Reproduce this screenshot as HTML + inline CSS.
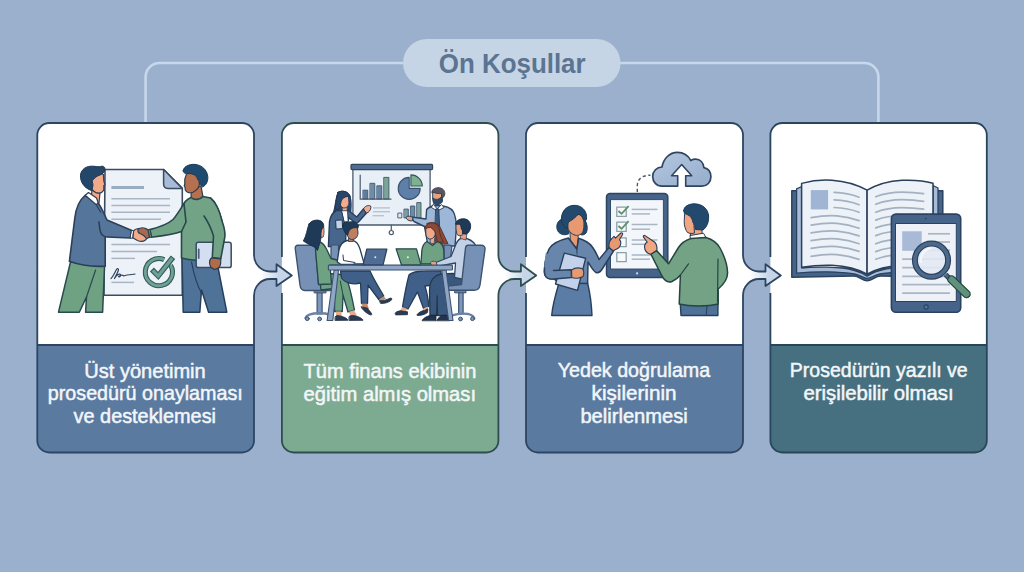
<!DOCTYPE html>
<html lang="tr">
<head>
<meta charset="utf-8">
<title>Ön Koşullar</title>
<style>
html,body{margin:0;padding:0;background:#9bb0cc;}
body{width:1024px;height:572px;overflow:hidden;font-family:"Liberation Sans",sans-serif;}
svg{display:block;position:absolute;left:0;top:0;}
.t{font-family:"Liberation Sans",sans-serif;font-size:20.3px;fill:#f3f6f9;stroke:#f3f6f9;stroke-width:0.5px;}
.ttl{font-family:"Liberation Sans",sans-serif;font-size:28.5px;font-weight:bold;fill:#5b7492;}
.ol{stroke-width:1.8;stroke-linejoin:round;stroke-linecap:butt;}
</style>
</head>
<body>
<svg width="1024" height="572" viewBox="0 0 1024 572">
<defs><linearGradient id="arw254" gradientUnits="userSpaceOnUse" x1="260.0" y1="0" x2="284.0" y2="0"><stop offset="0" stop-color="#ffffff"/><stop offset="0.5" stop-color="#dde7f2"/><stop offset="0.8" stop-color="#c6d6e8"/><stop offset="1" stop-color="#c6d6e8"/></linearGradient><linearGradient id="arw498" gradientUnits="userSpaceOnUse" x1="504.4" y1="0" x2="528.4" y2="0"><stop offset="0" stop-color="#ffffff"/><stop offset="0.5" stop-color="#dde7f2"/><stop offset="0.8" stop-color="#c6d6e8"/><stop offset="1" stop-color="#c6d6e8"/></linearGradient><linearGradient id="arw743" gradientUnits="userSpaceOnUse" x1="749.0" y1="0" x2="773.0" y2="0"><stop offset="0" stop-color="#ffffff"/><stop offset="0.5" stop-color="#dde7f2"/><stop offset="0.8" stop-color="#c6d6e8"/><stop offset="1" stop-color="#c6d6e8"/></linearGradient></defs>
<rect x="0" y="0" width="1024" height="572" fill="#9bb0cc"/>
<!-- connector lines -->
<path d="M403 63 H159.6 A14 14 0 0 0 145.6 77 V123" fill="none" stroke="#c7d8ec" stroke-width="2.6"/>
<path d="M620 63 H864.4 A14 14 0 0 1 878.4 77 V123" fill="none" stroke="#c7d8ec" stroke-width="2.6"/>
<!-- title pill -->
<rect x="403" y="39" width="217.5" height="48" rx="24" fill="#c5d5e5"/>
<text class="ttl" x="438.8" y="72.8" textLength="146.8" lengthAdjust="spacingAndGlyphs">Ön Koşullar</text>
<!-- cards -->
<path d="M49.3 123.0 H242.0 A12.0 12.0 0 0 1 254.0 135.0 V255 A16 16.5 0 0 0 270.0 271.5 H276.5 V264.2 L291.8 275.4 L276.5 286 V279 H270.0 A16 16.5 0 0 0 254.0 295.5 V345.0 H37.3 V135.0 A12.0 12.0 0 0 1 49.3 123.0 Z" fill="#ffffff"/>
<path d="M37.3 345.0 H254.0 V440.5 A12.0 12.0 0 0 1 242.0 452.5 H49.3 A12.0 12.0 0 0 1 37.3 440.5 Z" fill="#5a7aa0"/>
<path d="M293.9 123.0 H486.4 A12.0 12.0 0 0 1 498.4 135.0 V255 A16 16.5 0 0 0 514.4 271.5 H520.9 V264.2 L536.1999999999999 275.4 L520.9 286 V279 H514.4 A16 16.5 0 0 0 498.4 295.5 V345.0 H281.9 V135.0 A12.0 12.0 0 0 1 293.9 123.0 Z" fill="#ffffff"/>
<path d="M281.9 345.0 H498.4 V440.5 A12.0 12.0 0 0 1 486.4 452.5 H293.9 A12.0 12.0 0 0 1 281.9 440.5 Z" fill="#7dab91"/>
<path d="M538.0 123.0 H731.0 A12.0 12.0 0 0 1 743.0 135.0 V255 A16 16.5 0 0 0 759.0 271.5 H765.5 V264.2 L780.8 275.4 L765.5 286 V279 H759.0 A16 16.5 0 0 0 743.0 295.5 V345.0 H526.0 V135.0 A12.0 12.0 0 0 1 538.0 123.0 Z" fill="#ffffff"/>
<path d="M526.0 345.0 H743.0 V440.5 A12.0 12.0 0 0 1 731.0 452.5 H538.0 A12.0 12.0 0 0 1 526.0 440.5 Z" fill="#5a7aa0"/>
<path d="M782.4 123.0 H974.8 A12.0 12.0 0 0 1 986.8 135.0 V345.0 H770.4 V135.0 A12.0 12.0 0 0 1 782.4 123.0 Z" fill="#ffffff"/>
<path d="M770.4 345.0 H986.8 V440.5 A12.0 12.0 0 0 1 974.8 452.5 H782.4 A12.0 12.0 0 0 1 770.4 440.5 Z" fill="#46707f"/>
<path d="M260.0 271.5 H276.5 V264.2 L291.8 275.4 L276.5 286 V279 H260.0 Z" fill="url(#arw254)"/>
<path d="M504.4 271.5 H520.9 V264.2 L536.1999999999999 275.4 L520.9 286 V279 H504.4 Z" fill="url(#arw498)"/>
<path d="M749.0 271.5 H765.5 V264.2 L780.8 275.4 L765.5 286 V279 H749.0 Z" fill="url(#arw743)"/>
<path class="ol" d="M49.3 123.0 H242.0 A12.0 12.0 0 0 1 254.0 135.0 V255 A16 16.5 0 0 0 270.0 271.5 H276.5 V264.2 L291.8 275.4 L276.5 286 V279 H270.0 A16 16.5 0 0 0 254.0 295.5 V440.5 A12.0 12.0 0 0 1 242.0 452.5 H49.3 A12.0 12.0 0 0 1 37.3 440.5 V135.0 A12.0 12.0 0 0 1 49.3 123.0 Z" fill="none" stroke="#2d4562"/>
<path class="ol" d="M37.3 345.0 H254.0" fill="none" stroke="#2d4562"/>
<path class="ol" d="M281.9 257 V135.0 A12.0 12.0 0 0 1 293.9 123.0 H486.4 A12.0 12.0 0 0 1 498.4 135.0 V255 A16 16.5 0 0 0 514.4 271.5 H520.9 V264.2 L536.1999999999999 275.4 L520.9 286 V279 H514.4 A16 16.5 0 0 0 498.4 295.5 V440.5 A12.0 12.0 0 0 1 486.4 452.5 H293.9 A12.0 12.0 0 0 1 281.9 440.5 V293" fill="none" stroke="#2f4d50"/>
<path class="ol" d="M281.9 345.0 H498.4" fill="none" stroke="#2f4d50"/>
<path class="ol" d="M526.0 257 V135.0 A12.0 12.0 0 0 1 538.0 123.0 H731.0 A12.0 12.0 0 0 1 743.0 135.0 V255 A16 16.5 0 0 0 759.0 271.5 H765.5 V264.2 L780.8 275.4 L765.5 286 V279 H759.0 A16 16.5 0 0 0 743.0 295.5 V440.5 A12.0 12.0 0 0 1 731.0 452.5 H538.0 A12.0 12.0 0 0 1 526.0 440.5 V293" fill="none" stroke="#2d4562"/>
<path class="ol" d="M526.0 345.0 H743.0" fill="none" stroke="#2d4562"/>
<path class="ol" d="M770.4 257 V135.0 A12.0 12.0 0 0 1 782.4 123.0 H974.8 A12.0 12.0 0 0 1 986.8 135.0 V440.5 A12.0 12.0 0 0 1 974.8 452.5 H782.4 A12.0 12.0 0 0 1 770.4 440.5 V293" fill="none" stroke="#27465a"/>
<path class="ol" d="M770.4 345.0 H986.8" fill="none" stroke="#27465a"/>
<!-- illustrations -->
<!-- ILLUSTRATION 1 : handshake + document -->
<g id="ill1" stroke-linejoin="round" stroke-linecap="round">
<!-- document -->
<path d="M105 169.5 H163.6 L182.3 188.4 V295.2 H104 Z" fill="#edf2f8" stroke="#3a4c62" stroke-width="1.6"/>
<path d="M163.6 169.5 L182.3 188.4 H168 Q163.6 188.4 163.6 184 Z" fill="#a8bcd7" stroke="#3a4c62" stroke-width="1.5"/>
<path d="M111.4 187.5 H144" stroke="#9aacbf" stroke-width="3" stroke-linecap="butt" fill="none"/>
<g stroke="#a7b5c5" stroke-width="1.5" fill="none" stroke-linecap="butt">
<path d="M111.4 198.7 H170"/><path d="M111.4 205.4 H170"/><path d="M111.4 212.3 H170"/><path d="M111.4 219.2 H161"/>
<path d="M111.4 244.5 H170"/><path d="M111.4 251.5 H157"/><path d="M111.4 258.4 H135"/>
<path d="M111.4 282.4 H134"/>
</g>
<!-- signature -->
<path d="M111 278.5 C113 277 115 272 116.5 269.5 C117.5 268 119 268.5 118.3 270.5 C117.5 273 115.5 276.5 114.5 278.5 C116 275.5 119.5 273 120.5 274.5 C121.3 276 119 277.5 118.5 276.5 C120 275.5 122 274.5 123 275.5 C124 276.5 125.5 275 127 275 C129.5 275 132 274.5 135 274" fill="none" stroke="#2d435d" stroke-width="1.2"/>
<!-- check circle -->
<path d="M170.6 265.2 A13.6 13.6 0 1 1 164.2 259.6" fill="none" stroke="#2f5d5c" stroke-width="5" stroke-linecap="butt"/>
<path d="M170.6 265.2 A13.6 13.6 0 1 1 164.2 259.6" fill="none" stroke="#6fa092" stroke-width="2.8" stroke-linecap="butt"/>
<path d="M151.9 269.6 L158.2 275.9 L173 257.2" fill="none" stroke="#2f5d5c" stroke-width="5.6" stroke-linecap="butt" stroke-linejoin="miter"/>
<path d="M152.7 270.4 L158.2 275.9 L172.3 258.1" fill="none" stroke="#6fa092" stroke-width="3.3" stroke-linecap="butt" stroke-linejoin="miter"/>

<!-- MAN 1 (left) -->
<!-- trousers -->
<path d="M70.5 262 L58.5 312.2 H79.3 L86.5 297 L85.6 312.2 H102.6 L104.6 265 Z" fill="#6fa183" stroke="#2a4a4e" stroke-width="1.5"/>
<path d="M95.6 270 L86.5 297" fill="none" stroke="#2a4a4e" stroke-width="1.2"/>
<!-- neck -->
<path d="M92 190 L91 199 L99 203 L100 193 Z" fill="#f2a684" stroke="#2b3f58" stroke-width="1.2"/>
<!-- jacket body -->
<path d="M85 195.5 C79.5 200 76 208 74.8 218 L69.4 261.3 C80 265.3 95 266.8 105.2 266.2 L105.2 237 L103 215 L98 203 Z" fill="#56759b" stroke="#2b3f58" stroke-width="1.6"/>
<!-- collar -->
<path d="M85.2 195.3 L88.5 192.5 L96.5 198 L98.4 203.2 L96 204.5 Z" fill="#ffffff" stroke="#2b3f58" stroke-width="1.2"/>
<!-- arm -->
<path d="M98 203 C101 206 104 214 107 220 L131.8 230.6 L130.4 238 L107 237 C103 236.8 100.5 234 99.5 230 L96 216 Z" fill="#56759b"/>
<path d="M98 203 C101 206 104 214 107 220 L131.8 230.6 L130.4 238 L107 237 C103 236.8 100.5 234 99.8 229 L99 222" fill="none" stroke="#2b3f58" stroke-width="1.6"/>
<path d="M96.5 205 L100.5 212" fill="none" stroke="#2b3f58" stroke-width="1.2"/>
<path d="M131.8 230.4 L133.8 230.8 L132.6 238.3 L130.4 238 Z" fill="#ffffff" stroke="#2b3f58" stroke-width="1"/>
<!-- head -->
<path d="M92 178 C95 173.5 101 172.5 103.4 174.5 L103.8 181 L105 184.8 L103.8 185.6 L103.8 189.8 C102.5 192.8 99 193.5 96 192.6 C93 191.3 91 188 91.2 185 Z" fill="#f4aa88" stroke="#2b3f58" stroke-width="1.2"/>
<path d="M91.5 190.5 C86 189 81.2 184 80.5 177.5 C79.8 171 84.5 166.4 91 166.2 C95 166 99 167.3 100.5 166.5 C102.5 165.5 105.2 166.6 105 169.2 C104.8 172 102.8 174 100 175 C97 176 94.5 177.5 93.5 179.5 C92.6 179.6 92 180.6 92.3 182 C92.5 183.3 93.2 184 93 185.3 C92.6 187.5 92.2 189.5 91.5 190.5 Z" fill="#234669" stroke="#1f3854" stroke-width="1"/>

<!-- MAN 2 (right) -->
<!-- trousers -->
<path d="M182 258 L183.2 312.2 H199.8 L201.5 290 L208.6 312.2 H226.8 L218.5 270 L217.4 259 Z" fill="#4f7299" stroke="#263f5c" stroke-width="1.5"/>
<path d="M191.5 262 C194 275 198 287 201.5 293" fill="none" stroke="#263f5c" stroke-width="1.2"/>
<!-- neck -->
<path d="M191 189 L191.2 198.5 C195 200.5 200 199.5 203 197 L201 186 Z" fill="#b5714f" stroke="#2a3c50" stroke-width="1.2"/>
<!-- sweater body -->
<path d="M191 197.5 C186 199.5 183 203 181.5 209 L181.5 258 C190 260.5 205 261 214 259.5 L222 221 C219 210 216 202 210.5 198 L203 196.5 C200 200 194.5 200.5 191 197.5 Z" fill="#72a386" stroke="#27484c" stroke-width="1.6"/>
<!-- tablet -->
<rect x="196.2" y="242.2" width="35" height="25.4" rx="2.2" fill="#d3dff0" stroke="#3a4c62" stroke-width="1.5"/>
<path d="M198.7 249.5 V258" stroke="#4b607c" stroke-width="1.8" fill="none"/>
<!-- right arm holding tablet -->
<path d="M210.5 198 C216 203 220 212 222 221 C224.5 228 225.5 232 224.8 237 L220.8 258.5 L212.3 257.5 L213.5 236 C211 228 207.5 221 204 216" fill="#72a386" stroke="#27484c" stroke-width="1.6"/>
<path d="M211.3 258 C209.5 260 209.3 264 210.6 267 L214 269.3 C217.5 269.6 220.5 267 220.6 263.5 L220.8 258.8 Z" fill="#b06c49" stroke="#2a3c50" stroke-width="1.2"/>
<!-- left arm extended -->
<path d="M184 203.5 C181 208 177 215 173 219.5 C168 224 158 227.5 149.8 229.6 L151.3 237.2 C162 236 174 234.5 181.5 231.5 L186 222 Z" fill="#72a386" stroke="#27484c" stroke-width="1.6"/>
<path d="M149.8 229.4 L147.6 229.8 L149.2 237.5 L151.3 237.2 Z" fill="#5b8a74" stroke="#27484c" stroke-width="1"/>
<!-- head -->
<path d="M186.5 174 C185 177 184.3 181 184.8 184 L184.2 186 L185 187.2 L185.3 190 C186.5 192.8 190 193.3 193 192.2 C196.5 190.5 199 188 199.5 184 L198 176 C194 172.5 189 172.5 186.5 174 Z" fill="#b5714f" stroke="#2a3c50" stroke-width="1.2"/>
<path d="M183.2 170.5 C183.8 166.5 189 164 195 164.4 C202 165 207 170 207.8 176.5 C208.2 181.5 206 185.5 202.5 187 C201 185.5 199.8 184.5 199.5 183 C200 181 199.2 179.5 197.8 179.8 C197.2 177 195.5 175 193 174.2 C190 173.2 187 173.8 185 173.2 C183.6 172.7 183 171.6 183.2 170.5 Z" fill="#1f4a70" stroke="#1c3a58" stroke-width="1"/>

<!-- clasped hands -->
<path d="M133.6 231 C135 229 138 228.3 140 229 L146 233.5 C148 235.5 147.5 238.5 145.5 240 C143.5 241.5 140 241.6 137.5 240.5 L133 238 Z" fill="#f4aa88" stroke="#2b3f58" stroke-width="1.2"/>
<path d="M138 229.5 C140 227.6 143.5 227.6 145.8 228.6 L148 229.8 L149.4 237.4 L146.5 238.5 C145 236.5 142.5 234.5 140.5 233.8 C139 233.2 137.6 231.5 138 229.5 Z" fill="#a9694d" stroke="#2b3f58" stroke-width="1.2"/>
</g>

<!-- ILLUSTRATION 2 : meeting -->
<g id="ill2" stroke-linejoin="round" stroke-linecap="round">
<!-- screen -->
<rect x="352.9" y="168" width="77.2" height="57" fill="#e9eff6" stroke="#4a5b70" stroke-width="1.3"/>
<rect x="351" y="164.4" width="81.6" height="5.2" rx="1" fill="#506d8f" stroke="#30455f" stroke-width="1.2"/>
<path d="M391.3 225 V230.2" stroke="#4a5b70" stroke-width="1.2" fill="none"/>
<circle cx="391.3" cy="232.6" r="2.1" fill="#ffffff" stroke="#4a5b70" stroke-width="1.2"/>
<!-- bar chart 1 -->
<g stroke="#3f566e" stroke-width="0.9">
<rect x="363.3" y="190.2" width="4.5" height="8.8" fill="#5d7c9e"/>
<rect x="370.3" y="183.3" width="4.5" height="15.7" fill="#6c8ea6"/>
<rect x="377.2" y="185.8" width="4.6" height="13.2" fill="#6686a6"/>
<rect x="384.1" y="177.4" width="4.8" height="21.6" fill="#79a793"/>
</g>
<path d="M360.2 175.2 V199.2 H391" fill="none" stroke="#4a5b70" stroke-width="1.2"/>
<!-- pie -->
<path d="M409.2 188.4 V177.4 A11 11 0 1 0 420.2 188.4 Z" fill="#5d7fa8" stroke="#3a506c" stroke-width="1.1"/>
<path d="M410.9 186 V174.9 A11.3 11.3 0 0 1 422.3 186 Z" fill="#7fb093" stroke="#2f5a55" stroke-width="1.1"/>
<!-- text lines -->
<g stroke="#b8c4d1" stroke-width="1.4" stroke-linecap="butt" fill="none">
<path d="M373 207.9 H390"/><path d="M373 211.7 H390"/><path d="M372.5 215.7 H384"/>
</g>
<!-- bar chart 2 -->
<g stroke="#3f566e" stroke-width="0.9">
<rect x="398.2" y="213.1" width="3.6" height="4.8" fill="#dfe7f0"/>
<rect x="404.3" y="209.1" width="4" height="8.8" fill="#7b9eaa"/>
<rect x="410.8" y="206" width="4" height="11.9" fill="#6b8ba6"/>
<rect x="417.1" y="202.6" width="3.9" height="15.3" fill="#7da59a"/>
</g>

<!-- STANDING WOMAN (left presenter) -->
<!-- hair back -->
<path d="M338 192.3 C342.5 189.8 348.5 191.5 350.2 196.5 C351.5 201 351.2 207 350.8 212 L333.4 212.5 C335.3 207 335.5 198 338 192.3 Z" fill="#27466a" stroke="#1f3854" stroke-width="1"/>
<!-- body/jacket -->
<path d="M336.5 210.5 C332.5 212.5 330.3 216.5 329.5 221.5 L328.4 246.5 L345.4 247 L346.2 226 L349.5 217 L347.5 210.5 Z" fill="#47668c" stroke="#263d59" stroke-width="1.4"/>
<!-- arm -->
<path d="M346 212 L348.6 210.6 L356.8 217 L363.6 208.6 L366.5 213 L358.2 222.2 C357.2 223.2 355.8 223.2 354.9 222.4 L346 215.5 Z" fill="#47668c" stroke="#263d59" stroke-width="1.3"/>
<!-- white shirt -->
<path d="M341.8 210.3 L347.6 210.3 L348.2 221.8 L344.6 222.2 Z" fill="#ffffff" stroke="#263d59" stroke-width="1"/>
<!-- neck+face -->
<path d="M342.3 205 L342.3 210.8 L347 210.8 L347.2 206 Z" fill="#f3ab8b" stroke="#263d59" stroke-width="0.7"/>
<path d="M340.2 198.5 C341 196.3 345.5 195.3 348.6 196.8 L349 203 C348.6 206.6 346 208.3 343.3 207.9 C341.2 207.4 340 205 340 202.5 Z" fill="#f3ab8b" stroke="#263d59" stroke-width="1"/>
<!-- hair front -->
<path d="M338 192.3 C342.5 189.8 348.5 191.5 350.2 196.5 C347 196 344 197 342 199.5 C340.8 201.5 340.6 204 340.3 206.8 L338 209.5 L335 209 C336 203 336.3 196.5 338 192.3 Z" fill="#27466a" stroke="#1f3854" stroke-width="0.9"/>
<path d="M349.3 197.5 C350 201 350.5 206 350.3 210" fill="none" stroke="#27466a" stroke-width="1.6"/>
<!-- hand pointing -->
<path d="M363.6 208.6 C364.3 206.5 368 204.6 370.6 206 C371.5 207.6 370.2 211 368 212.5 L366.5 213 Z" fill="#f3ab8b" stroke="#263d59" stroke-width="1"/>
<!-- folder held -->
<path d="M336 220.3 L342.2 220 L342.6 228.6 L336.4 229 Z" fill="#c5d2e4" stroke="#263d59" stroke-width="1"/>

<!-- MAN PRESENTER (right) -->
<path d="M426.6 209.5 C429 207 433 205.5 437 205.5 C444 205.5 451 207.5 453.5 212 C455.5 216 456.2 222 456.5 226 L455 246 L428 246 L424.5 226.5 L414 221.5 L411.5 217 L426 219 Z" fill="#9db7d8" stroke="#2f4663" stroke-width="1.4"/>
<path d="M433.5 204.5 L437.3 209 L441.5 204.5 L444 207.5 L437.3 211 L431.5 207.5 Z" fill="#ffffff" stroke="#2f4663" stroke-width="1"/>
<path d="M436 209 L438.8 209 L439.6 227 L437.3 229 L435.2 227 Z" fill="#3d5a80" stroke="#263d59" stroke-width="0.9"/>
<!-- face -->
<path d="M433 192.5 L441.5 192 L442 201 C441 204 437 205 434 203.5 L432.8 198 Z" fill="#e9a07c" stroke="#2f4663" stroke-width="1"/>
<!-- beard -->
<path d="M432.8 198 C434 199.5 437 199.8 439 198.8 L442.2 196.5 L442.5 201.2 C441.5 204.5 437 205.5 434.2 204 C433 202.5 432.7 200 432.8 198 Z" fill="#2d4a68" stroke="#213954" stroke-width="0.8"/>
<!-- hair -->
<path d="M431.9 192.8 C431.5 190 434 187.8 438 187.7 C442 187.6 445 190 444.8 194 C444.6 196 443.5 197.5 442.4 198 L441.2 193.5 C438 193.8 435 193.3 433.5 192.3 Z" fill="#575763" stroke="#3a3d4c" stroke-width="0.9"/>
<!-- pointing hand -->
<path d="M412.7 217.5 C411 216 407.5 215.6 405.8 217.3 C406.2 219.5 409 221.3 412 221 Z" fill="#e9a07c" stroke="#2f4663" stroke-width="1"/>

<!-- CHAIR LEFT -->
<path d="M317.1 291 H322.1 V314 H317.1 Z" fill="#7f97ba" stroke="#3d526f" stroke-width="1.2"/>
<path d="M305.5 318 C306.5 314.5 312 313.2 319.6 313.2 C324 313.2 327.5 313.8 329.5 314.6" fill="none" stroke="#6a82a6" stroke-width="2.4"/>
<circle cx="307.3" cy="318.7" r="1.9" fill="#7f97ba" stroke="#3d526f" stroke-width="1"/>
<circle cx="319.6" cy="318.9" r="1.9" fill="#7f97ba" stroke="#3d526f" stroke-width="1"/>
<rect x="314.5" y="290.3" width="11.5" height="2.6" fill="#6a82a6" stroke="#3d526f" stroke-width="1"/>
<path d="M298 245.2 L312 245.2 C314 245.2 315.3 246.3 315.6 248.5 L318.5 284 L337.8 285.5 L337.8 290.5 L305 290.5 C301.5 290.5 300.3 288 300 285 L295.3 249 C295 246.5 296 245.2 298 245.2 Z" fill="#7790b5" stroke="#3d526f" stroke-width="1.4"/>

<!-- CHAIR behind woman 2 -->
<path d="M331 247 C331 245.5 332 245 333.5 245 L338.5 245 L338.5 262 L331 262 Z" fill="#7790b5" stroke="#3d526f" stroke-width="1.2"/>
<!-- CHAIR behind woman 3 -->
<path d="M444 245.2 L449.5 245.2 C451 245.2 451.8 246 451.8 247.5 L450 262 L444 262 Z" fill="#7790b5" stroke="#3d526f" stroke-width="1.2"/>

<!-- WOMAN 1 (seated far left, green) -->
<!-- legs -->
<path d="M319.5 278 C326 272.5 339 272.5 345.5 277 C349 281.5 351.5 296 354.5 310 L348 312 L343 295 L342.3 311.5 L334.6 311.5 L334.2 288.5 L321 290 Z" fill="#6fa183" stroke="#27484c" stroke-width="1.3"/>
<path d="M340.3 281 L343 295" fill="none" stroke="#27484c" stroke-width="1"/>
<path d="M335.8 311.5 L341 311.5 L342 316 L336 316.3 Z" fill="#e9a98a"/>
<path d="M348.5 312 L354 310.3 L357 315.5 L351 316.2 Z" fill="#e9a98a"/>
<path d="M335.3 316.5 C336.5 315 338.5 315.5 341 316.2 C344 317 347.5 318.3 347.9 320.3 L335.3 320.4 Z" fill="#2a3c55" stroke="#1d2c40" stroke-width="0.8"/>
<path d="M349.3 316.3 C351 315 353.5 315.3 356 316 C359 317 362.7 318.5 363 320.3 L349.3 320.4 Z" fill="#2a3c55" stroke="#1d2c40" stroke-width="0.8"/>
<!-- torso -->
<path d="M316.5 241 C321 241.5 324.5 244.5 326.5 249 L331 258.5 L343 261.5 L342.5 265 L330 265.2 L331.5 284 L318.5 284.5 L315.5 250 Z" fill="#6fa183" stroke="#27484c" stroke-width="1.3"/>
<!-- face -->
<path d="M320.5 226.5 L323.6 226.5 C324.3 230 324.2 234 323.2 237 L320.5 238 Z" fill="#f0a888" stroke="#263d59" stroke-width="0.8"/>
<!-- hair -->
<path d="M309 224 C311 220.5 317 219 321 221 C323.5 222.5 324 225 323.6 227 C321.5 228.5 320.8 232 321 236 C321.2 240 319 245 317.5 250.5 L314.5 247 C311 245.5 306 243 303.3 241 C306.5 236 307 229 309 224 Z" fill="#1f3a57" stroke="#172c44" stroke-width="0.9"/>

<!-- WOMAN 2 (white top) -->
<!-- legs dark blue -->
<path d="M340.5 271 L370 271 C373 278 379 288 383.8 296 L378.8 299.5 L368 285 L367.5 303.5 L361.5 303.5 L360.5 283 C353 285 345 283 341.5 278 Z" fill="#40608a" stroke="#263d59" stroke-width="1.3"/>
<path d="M361.8 303.5 L367 303.5 L369 309 L363 309 Z" fill="#c98a68"/>
<path d="M379 299.3 L383.5 296.3 L386 298.5 L381.5 301.5 Z" fill="#c98a68"/>
<path d="M361.2 307 C362 309 364.5 311.5 367.5 313.5 C369.5 314.8 371.8 315.6 371.8 314.3 C371 312 368.5 310 367.5 308.3 Z" fill="#2a3c55" stroke="#1d2c40" stroke-width="0.8"/>
<path d="M379.6 300.5 C382 301.5 386 300 390 298.2 C391.5 297.5 392.3 298.8 391.5 300 C389 302.5 384 303.8 380.8 303.4 Z" fill="#2a3c55" stroke="#1d2c40" stroke-width="0.8"/>
<!-- torso white -->
<path d="M347 240.5 C343 241.5 340 245 339 250 L337.2 262 L341 264.5 L352 264.3 L364.3 264.3 L360 249 C358.5 244 356 241 352.5 240.3 Z" fill="#ffffff" stroke="#263d59" stroke-width="1.3"/>
<path d="M343 255 L343.5 260.5 L355 262.5" fill="none" stroke="#263d59" stroke-width="1"/>
<!-- neck/face -->
<path d="M348.5 237 L348.5 241.5 L353 241.5 L353.5 237 Z" fill="#c07f5c" stroke="#263d59" stroke-width="0.8"/>
<path d="M347.5 229 C349 226.5 354 225.8 357.5 227.5 L358 233 C358 237 355 239.8 351.5 239.5 C349 239 347.3 236.5 347.2 234 Z" fill="#c07f5c" stroke="#263d59" stroke-width="1"/>
<!-- hair bun -->
<path d="M343 226 C342 223 345 221.3 348 222.3 C351 221 356 221.8 358 224.5 C358.8 226 358.5 227.5 357.7 228 C354.5 227 351 228 349.3 230.5 C348.3 232 348 234 347.6 235.3 C344.5 233.5 343.3 229.5 343 226 Z" fill="#1f3a57" stroke="#172c44" stroke-width="0.9"/>

<!-- WOMAN 3 (brown hair, green top) -->
<!-- legs -->
<path d="M409 275 C412 271.5 420 270.5 441 271 L441 284 L425 286 C427 293 429 300 428.5 306.5 L423.5 308.5 L417.5 292 L408 309 L402.5 307 C404 298 406 286 409 275 Z" fill="#40608a" stroke="#263d59" stroke-width="1.3"/>
<path d="M402.3 307 L407.5 309 L405 312 L399.5 311.5 Z" fill="#e9a98a"/>
<path d="M423.5 308.3 L428 306.5 L427.3 310.5 L422 312.5 Z" fill="#e9a98a"/>
<path d="M395.2 313 C397 310.8 401 310.3 403 311.2 L407.6 311.8 L407.4 314.7 L396 314.9 Z" fill="#2a3c55" stroke="#1d2c40" stroke-width="0.8"/>
<path d="M417.1 314.5 C419 312 422.5 310.5 424.5 310.5 L427.9 308.8 L427.5 312.5 C425 314.5 420.5 315.8 417.5 315.5 Z" fill="#2a3c55" stroke="#1d2c40" stroke-width="0.8"/>
<!-- hair back -->
<path d="M427 223.5 C431 221.5 437.5 222.5 440 227 C443 233 445.5 239 448 243.5 L437 244.5 L433 236 Z" fill="#8a4a3a" stroke="#5a2e27" stroke-width="0.9"/>
<!-- torso -->
<path d="M427 241.5 C424 243 422.3 246.5 421.8 251 L420.9 264.2 L444.2 264.2 L443.8 250 C443.3 245.5 441 242.5 437.5 241.3 L432.5 245.5 Z" fill="#6fa183" stroke="#27484c" stroke-width="1.3"/>
<!-- neck/face -->
<path d="M430 237 L430.3 243 L434 243.8 L435 237 Z" fill="#f0a888" stroke="#263d59" stroke-width="0.8"/>
<path d="M426 228.5 C427.5 226.5 431.5 226.3 434.3 227.8 L435.3 233.5 C435 237 432.3 239.3 429.5 239 C427 238.5 425.8 236 425.8 233.5 Z" fill="#f0a888" stroke="#263d59" stroke-width="1"/>
<path d="M424.8 228 C425.5 224.5 429.5 222.3 433.5 223 C437 223.8 439 226.5 439.3 230 C439.8 234.5 441.5 239 443.5 242 L437.5 242 C436.3 238 435.5 234 435.2 231.5 C433.5 230 431.5 228.5 430.5 227.2 C428.5 227.8 426.3 228.3 424.8 228 Z" fill="#8a4a3a" stroke="#5a2e27" stroke-width="0.9"/>

<!-- SEATED MAN (right) -->
<!-- legs -->
<path d="M436 276 C440 273.5 452 273 462 274 L462 287 L447.5 289 L449.5 315.5 L437.5 315.5 L437.2 296 L436.5 315.5 L430 315.5 L429.5 290 C429.5 283 432 278.5 436 276 Z" fill="#3a587e" stroke="#22364f" stroke-width="1.3"/>
<path d="M422.2 320.4 C423.5 317.5 428 316 430.5 315.3 L436 315.3 L436 320.4 Z" fill="#22334b" stroke="#18263a" stroke-width="0.8"/>
<path d="M436.8 320.4 C438 317.5 441 316 443 315.3 L449.3 315.3 L449.3 320.4 Z" fill="#22334b" stroke="#18263a" stroke-width="0.8"/>
<!-- shirt -->
<path d="M463 237.5 C468 238.5 473 241 475.5 245 L472 262 L466 280 L454.5 277.5 L455.5 263 L437 266.5 L435.8 262.5 L451 256.5 L456 244 C457.5 240.5 460 238 463 237.5 Z" fill="#c3d1e6" stroke="#2f4663" stroke-width="1.3"/>
<!-- hands on table -->
<path d="M430.5 262.5 C431.5 261 434.5 260.8 436.3 262 L437 266 L431.5 265.6 Z" fill="#e9a07c" stroke="#2f4663" stroke-width="0.8"/>
<!-- neck / face -->
<path d="M460 233.5 L460.5 238.5 L466 240 L467 233 Z" fill="#e9a07c" stroke="#2f4663" stroke-width="0.8"/>
<path d="M456.3 224 L461.5 223.5 L463 234.5 C461 236.3 458 236 456.8 234 L456 229 Z" fill="#e9a07c" stroke="#2f4663" stroke-width="1"/>
<path d="M455.6 223.8 C456 220.5 460 218.5 464 218.8 C468.5 219.2 471 222.5 470.6 227 C470.3 230.5 468.5 233.2 466 234.2 L462.5 233.5 C462.8 231.5 462.5 229.5 461.2 228.8 C461.3 226.5 460.5 224.8 459.5 224.3 Z" fill="#1f3a57" stroke="#172c44" stroke-width="0.9"/>

<!-- CHAIR RIGHT -->
<path d="M458.7 291.5 H463.1 V314 H458.7 Z" fill="#7f97ba" stroke="#3d526f" stroke-width="1.2"/>
<path d="M453.2 315.2 C456 314 460 313.6 463 313.6 C469 313.6 473.5 315 474.3 318.4" fill="none" stroke="#6a82a6" stroke-width="2.4"/>
<circle cx="460.5" cy="319" r="1.9" fill="#7f97ba" stroke="#3d526f" stroke-width="1"/>
<circle cx="472.5" cy="318.7" r="1.9" fill="#7f97ba" stroke="#3d526f" stroke-width="1"/>
<rect x="455" y="290.2" width="11" height="2.6" fill="#6a82a6" stroke="#3d526f" stroke-width="1"/>
<path d="M468 245.2 L481 245.2 C484 245.2 485.3 247 485 249.5 L480 285 C479.5 288.5 477.5 290.3 474 290.3 L448 290.3 L448 286 L461.5 284.5 L465.5 248 C465.8 246 466.5 245.2 468 245.2 Z" fill="#7790b5" stroke="#3d526f" stroke-width="1.4"/>

<!-- TABLE -->
<path d="M334.1 270 L338.5 270 L332.8 320.5 L327.1 320.5 Z" fill="#8fa6c6" stroke="#3d526f" stroke-width="1.1"/>
<path d="M441.7 270 L446.1 270 L453 320.5 L448.6 320.5 Z" fill="#8fa6c6" stroke="#3d526f" stroke-width="1.1"/>
<rect x="328.4" y="265.2" width="124" height="4.8" rx="0.8" fill="#8fa6c6" stroke="#3d526f" stroke-width="1.2"/>
<!-- LAPTOPS -->
<path d="M366.8 249 L386.9 249 L383.1 264.8 L363 264.8 Z" fill="#4f6c94" stroke="#2a405c" stroke-width="1.2"/>
<circle cx="375.3" cy="257.2" r="1" fill="#d9e6f5"/>
<path d="M354 263.6 H364 V265 H354 Z" fill="#3d567a" stroke="#2a405c" stroke-width="0.6"/>
<path d="M396.1 248.8 L416.5 248.8 L420.9 264.8 L401.4 264.8 Z" fill="#6fa183" stroke="#27484c" stroke-width="1.2"/>
<circle cx="407.9" cy="257.2" r="1" fill="#e2f3ea"/>
<path d="M420.5 263.6 H431 V265 H420.5 Z" fill="#4d7a65" stroke="#27484c" stroke-width="0.6"/>
</g>

<!-- ILLUSTRATION 3 : checklist tablet + cloud -->
<g id="ill3" stroke-linejoin="round" stroke-linecap="round">
<defs>
<linearGradient id="cloudg" x1="0" y1="0" x2="1" y2="1"><stop offset="0" stop-color="#b4c7df"/><stop offset="1" stop-color="#95adcc"/></linearGradient>
</defs>
<!-- dashed link -->
<path d="M637.3 192 V186 C637.3 179 642 175.3 650.5 175.2" fill="none" stroke="#4d5a69" stroke-width="1.4" stroke-dasharray="3.2 2.6" stroke-linecap="butt"/>
<!-- cloud -->
<path d="M662 186.2 C656.5 186.2 652.7 182 652.7 176.5 C652.7 171 656.8 167.2 662 167 C663.5 158.5 669.5 152.4 677.5 152.4 C683.5 152.4 688.3 155.8 690.8 160.5 C692.3 159.6 694 159.2 695.7 159.2 C700.2 159.2 703.4 162.7 703.9 167.6 C708.2 168.6 710.9 172.3 710.9 176.8 C710.9 182.2 707.2 186.2 702 186.2 Z" fill="url(#cloudg)" stroke="#2f4560" stroke-width="1.7"/>
<path d="M677.7 187 V175.8 H671.6 L681.7 164.5 L691.7 175.8 H685.7 V187 Z" fill="#ffffff"/>
<path d="M677.7 186.2 V175.8 H671.6 L681.7 164.5 L691.7 175.8 H685.7 V186.2" fill="none" stroke="#2f4560" stroke-width="1.6"/>
<!-- tablet -->
<rect x="606.5" y="193.4" width="61.3" height="84" rx="3.5" fill="#46648a" stroke="#2d4562" stroke-width="1.5"/>
<rect x="610.9" y="199.6" width="52.5" height="69.4" fill="#f3f6fa" stroke="#2d4562" stroke-width="0.9"/>
<circle cx="637.1" cy="273.4" r="1.1" fill="#cfdcee"/>
<!-- check rows -->
<g fill="#f7f9fb" stroke="#8aa0a6" stroke-width="1.3">
<rect x="616.8" y="207.2" width="9.4" height="9.2"/>
<rect x="616.8" y="222.2" width="9.4" height="9.2"/>
<rect x="616.8" y="237.9" width="9.4" height="8.8"/>
<rect x="616.8" y="252.7" width="9.4" height="9"/>
</g>
<g fill="none" stroke="#a9b6c4" stroke-width="1.5" stroke-linecap="butt">
<path d="M631.7 209.4 H657.5"/><path d="M631.7 213.9 H650"/>
<path d="M631.7 224.5 H657.5"/><path d="M631.7 229.2 H650"/>
<path d="M631.7 240 H657.5"/><path d="M631.7 244.3 H650"/>
<path d="M631.7 255 H657.5"/><path d="M631.7 259.2 H650"/>
</g>
<g fill="none" stroke="#5f9270" stroke-width="1.9" stroke-linecap="butt" stroke-linejoin="miter">
<path d="M618.4 211 L621.6 213.8 L628.6 206.2"/>
<path d="M618.4 226 L621.6 228.8 L628.6 221.2"/>
</g>

<!-- WOMAN -->
<!-- skirt -->
<path d="M559 283 C556 293 552.5 305 551.7 315.5 L592 315.5 C591.5 304 590 293 587.6 283 Z" fill="#5b7ca4" stroke="#29405c" stroke-width="1.4"/>
<!-- hair back / bun -->
<path d="M561 219.5 C556.5 221.5 555.5 228 558.5 232 C561 235 566 235.5 569 233.5 L568 220 Z" fill="#234a6d" stroke="#1b3a58" stroke-width="1"/>
<path d="M583 218 C587 221 588.5 229 586 233 C584.5 235 582 235.3 580.5 234.6 L581 220 Z" fill="#234a6d" stroke="#1b3a58" stroke-width="1"/>
<!-- neck -->
<path d="M570 232 L570.3 240.5 L576.8 249.5 L578.3 240 L578 234 Z" fill="#e8996f" stroke="#29405c" stroke-width="1"/>
<!-- torso -->
<path d="M568.5 238 C560 240 552 243.5 549 249 C546 256 544.3 266 544.3 272 C544.5 277.5 549 279.5 554 279 L559 283 L587.6 283.5 L588 262 C590 265 593 271 596 272.5 C598.5 273.3 601 271 602.5 268.5 L613.5 251 L609 247.5 L599 259.5 C596 252 592 245 587 242 C584 240.3 581 239 578.5 238.3 L576.8 249 Z" fill="#6886ab" stroke="#29405c" stroke-width="1.5"/>
<path d="M568.5 238.5 L576.8 249 L578.5 238.5" fill="none" stroke="#29405c" stroke-width="1.1"/>
<path d="M576.8 249 L577 254" fill="none" stroke="#29405c" stroke-width="1"/>
<!-- face -->
<path d="M567.5 221 C569 214.5 579 212.5 583 216.5 C584.3 221 584.3 227 583.2 231 C582 234.5 578.5 236 575 235.2 C571 234 568 230.5 567.2 226.5 Z" fill="#e8996f" stroke="#29405c" stroke-width="1"/>
<!-- hair top -->
<path d="M561.5 221 C560.5 212 566 205.6 574 205.3 C582 205.2 587.5 211 586.5 219.5 C585.8 221 584.5 221 583.5 220 C582.5 217 580.5 214.5 578.5 214 C575.5 217.5 571.5 220.5 568.5 222 C567.8 224 567.8 226.5 568 228.5 C565 228 562.5 225 561.5 221 Z" fill="#234a6d" stroke="#1b3a58" stroke-width="1"/>
<!-- clipboard -->
<path d="M564.3 253.1 L585.7 258.2 L577.5 290.3 L555.5 284 Z" fill="#c3d2ea" stroke="#29405c" stroke-width="1.4"/>
<!-- left forearm over clipboard -->
<path d="M546 252 C544.5 260 544 268 544.5 273 C545 277.5 549 279.5 554 279 L571.5 277.5 L571.2 269.8 L553.5 270.5 L554.5 262" fill="#6886ab"/>
<path d="M544.5 268 C544.3 271 544.6 274 545.2 275.5 C546.5 278.5 550 279.4 554 279 L571.5 277.5 L571.2 269.8 L553.5 270.5" fill="none" stroke="#29405c" stroke-width="1.4"/>
<path d="M571.5 270 C574 268.2 578.5 267.5 582 268.5 C584 270 584.3 274 583 276.5 C580 278.5 574.5 278.6 571.8 277.6 Z" fill="#e8996f" stroke="#29405c" stroke-width="1.1"/>
<!-- right hand pointing -->
<path d="M609.2 247.5 C608.5 244 609.5 240.5 612 238.5 L614 236.3 L615.5 238.2 L620.8 233 C622 232.3 623.2 233.5 622.5 234.8 L619.5 239.5 C621.5 241.5 621.2 245 619 247.5 C617 249.3 614.5 249.8 613.3 251 Z" fill="#e8996f" stroke="#29405c" stroke-width="1.1"/>

<!-- MAN -->
<!-- trousers -->
<path d="M680.2 303 L681 315.5 L717.9 315.5 L718 303 Z" fill="#4f7299" stroke="#263f5c" stroke-width="1.4"/>
<path d="M707 306 L706.2 315.5" fill="none" stroke="#263f5c" stroke-width="1"/>
<!-- neck & collar -->
<path d="M690 228 L690.5 236 L702 236 L702 227 Z" fill="#f0a583" stroke="#2a3c50" stroke-width="1"/>
<path d="M690.3 235.5 L703.5 233.2 L705.8 237.2 L691 239.5 Z" fill="#ffffff" stroke="#2a3c50" stroke-width="1"/>
<!-- sweater -->
<path d="M691 238.5 C685 240.5 681 243.5 678.5 247.5 L668.5 263.8 L656.5 250.5 L650.8 254 L661.5 275.2 C664 280 668 283 672 281.5 C675.5 280 678.5 277.5 680.4 275 L679.2 304 C690 306.5 708 306.5 718.2 304 L718.2 289 C723.5 284.5 727.6 278 727.6 272.7 C727.3 264.5 723.5 254.5 720 248 C717 242.5 712 239.3 706 237.5 Z" fill="#73a285" stroke="#24463f" stroke-width="1.5"/>
<path d="M688.5 263.8 L680.4 275" fill="none" stroke="#24463f" stroke-width="1.2"/>
<path d="M718 259 L717.5 302" fill="none" stroke="#24463f" stroke-width="1.2"/>
<!-- face -->
<path d="M685 213.5 L693 212 L694.5 233 C692.5 233.8 689.5 233.6 687.5 232.5 C685.5 230 684.2 226 684.2 222 Z" fill="#f0a583" stroke="#2a3c50" stroke-width="1"/>
<!-- hair -->
<path d="M683.8 210.5 C683.6 207 688 204 694 203.8 C702 203.8 708 208.5 708.6 216 C709 222.5 706.5 227.5 703 230 L695.5 229.5 C695 226.5 694.5 223.5 693 222.5 C692.5 219.5 691 216.5 689 215.5 C687.5 214.5 685.8 214 684.8 213.5 C684 212.8 683.8 211.5 683.8 210.5 Z" fill="#234a6d" stroke="#1b3a58" stroke-width="1"/>
<!-- hand pointing -->
<path d="M656.8 250.3 C657.3 247 656.5 244 654.5 242 L645 235.6 C644 235 642.8 236 643.5 237.2 L647.2 242 C645 243.5 644 246.5 645 249.5 C646 252.5 649 254.5 651.2 254 Z" fill="#f0a583" stroke="#2a3c50" stroke-width="1.1"/>
</g>

<!-- ILLUSTRATION 4 : book + tablet + magnifier -->
<g id="ill4" stroke-linejoin="round" stroke-linecap="round">
<path d="M791.8 190.8 H800 V268 H935 V190.8 H942.8 V277.3 L881 276 C875 276 872 280.8 867.1 280.8 C862.2 280.8 859.5 276 853.5 276 L791.8 277.3 Z" fill="#46648a" stroke="#2a4260" stroke-width="1.5"/>
<path d="M796.6 188.9 L801.8 186.5 V268 C815 266.5 840 266.5 854.5 270.5 C860 272 864 274 867.1 276.2 C870 274 874 272 879.7 270.5 C895 266.5 920 266.5 933 268 V185.5 L938 188 V273.2 C920 271.2 895 271.2 880 274 C874.5 275.2 871 277.8 867.1 278.4 C863.5 277.8 860 275.2 854.5 274 C840 271.2 815 271.2 796.6 273.2 Z" fill="#a8bcd8" stroke="#2a4260" stroke-width="1.3"/>
<path d="M801.6 183.4 C812 180.5 824 179.6 832 180.2 C846 181.2 858 185 867.1 190.2 V274.2 C858 269 846 266 832 265.3 C822 265 811 265.8 801.6 267.3 Z" fill="#edf2f8" stroke="#2a3f5a" stroke-width="1.5"/>
<path d="M867.1 190.2 C876 185 888 181.2 902 180.3 C912 179.8 924 180.6 933 183.3 V267.3 C924 265.8 912 265 902 265.3 C888 266 876 269 867.1 274.2 Z" fill="#edf2f8" stroke="#2a3f5a" stroke-width="1.5"/>
<rect x="810.8" y="190.1" width="17.3" height="19.3" fill="#9fb5d3"/>
<g fill="none" stroke="#a3b1c0" stroke-width="1.7">
<path d="M834.1 192.4 C843 192.70000000000002 852 194.4 859.1 197.20000000000002"/>
<path d="M834.1 199.9 C843 200.20000000000002 852 201.9 859.1 204.70000000000002"/>
<path d="M834.1 207.5 C843 207.8 852 209.5 859.1 212.3"/>
<path d="M811.1 217.6 C820 216.0 830 215.29999999999998 837 215.79999999999998 C846 216.6 853 218.4 859.1 220.6"/>
<path d="M811.1 225.2 C820 223.6 830 222.89999999999998 837 223.39999999999998 C846 224.2 853 226.0 859.1 228.2"/>
<path d="M811.1 232.9 C820 231.3 830 230.6 837 231.1 C846 231.9 853 233.70000000000002 859.1 235.9"/>
<path d="M811.1 240.7 C820 239.1 830 238.39999999999998 837 238.89999999999998 C846 239.7 853 241.5 859.1 243.7"/>
<path d="M811.1 248.4 C820 246.8 830 246.1 837 246.6 C846 247.4 853 249.20000000000002 859.1 251.4"/>
<path d="M811.1 256.4 C820 254.79999999999998 830 254.09999999999997 837 254.59999999999997 C846 255.39999999999998 853 257.2 859.1 259.4"/>
<path d="M875.7 196.7 C883 193.89999999999998 893 192.1 902 192.1 C910 192.1 918 192.79999999999998 923.6 193.7"/>
<path d="M875.7 204.3 C883 201.5 893 199.70000000000002 902 199.70000000000002 C910 199.70000000000002 918 200.4 923.6 201.3"/>
<path d="M875.7 212.2 C883 209.39999999999998 893 207.6 902 207.6 C910 207.6 918 208.29999999999998 923.6 209.2"/>
<path d="M875.7 220.1 C883 217.29999999999998 893 215.5 902 215.5 C910 215.5 918 216.2 923.6 217.1"/>
<path d="M875.7 227.9 C883 225.1 893 223.3 902 223.3 C910 223.3 918 224.0 923.6 224.9"/>
<path d="M875.7 235.6 C883 232.79999999999998 893 231.0 902 231.0 C910 231.0 918 231.7 923.6 232.6"/>
<path d="M875.7 243.8 C883 241.0 893 239.20000000000002 902 239.20000000000002 C910 239.20000000000002 918 239.9 923.6 240.8"/>
<path d="M875.7 251.6 C883 248.79999999999998 893 247.0 902 247.0 C910 247.0 918 247.7 923.6 248.6"/>
<path d="M875.7 259.2 C883 256.4 893 254.6 902 254.6 C910 254.6 918 255.29999999999998 923.6 256.2"/>
</g>
<rect x="891.4" y="214.1" width="69.3" height="98.1" rx="4.5" fill="#46648a" stroke="#2a4260" stroke-width="1.6"/>
<rect x="895.9" y="223.5" width="60.4" height="78" fill="#eef2f8" stroke="#2a4260" stroke-width="1"/>
<circle cx="925.8" cy="218.6" r="0.9" fill="#2a4260"/>
<circle cx="926.1" cy="307" r="2.1" fill="#5576a0" stroke="#2a4260" stroke-width="1.1"/>
<rect x="902.2" y="231.3" width="19.5" height="19.5" fill="#a8bad6"/>
<g fill="none" stroke="#a9b6c4" stroke-width="1.7" stroke-linecap="butt">
<path d="M928 233.8 H950"/>
<path d="M928 242 H950"/>
<path d="M928 250.2 H950"/>
<path d="M902.2 259.2 H950"/>
<path d="M902.2 267.7 H950"/>
<path d="M902.2 276.4 H950"/>
<path d="M902.2 284.6 H950"/>
<path d="M902.2 293.1 H950"/>
</g>
<path d="M945.5 274.5 L950.8 279.8" stroke="#2a4260" stroke-width="5.2" fill="none" stroke-linecap="butt"/>
<path d="M945.5 274.5 L950.8 279.8" stroke="#4d6a8a" stroke-width="2.8" fill="none" stroke-linecap="butt"/>
<path d="M951.5 279.5 L966.5 294" stroke="#25463f" stroke-width="8.6" fill="none"/>
<path d="M951.5 279.5 L966.5 294" stroke="#5f917b" stroke-width="6" fill="none"/>
<circle cx="931.5" cy="260.2" r="16.3" fill="#e3eaf4" fill-opacity="0.86"/>
<path d="M921 262 C920 255 924 249.5 930.5 248.5" fill="none" stroke="#f5f8fc" stroke-width="2.2" opacity="0.9"/>
<circle cx="931.5" cy="260.2" r="16.6" fill="none" stroke="#2a4260" stroke-width="6"/>
<circle cx="931.5" cy="260.2" r="16.6" fill="none" stroke="#4d6a8a" stroke-width="3.6"/>
</g>


<!-- labels -->
<text class="t" x="84.3" y="377.6" textLength="121.4" lengthAdjust="spacingAndGlyphs">Üst yönetimin</text>
<text class="t" x="47.8" y="400.4" textLength="195" lengthAdjust="spacingAndGlyphs">prosedürü onaylaması</text>
<text class="t" x="73.6" y="423.4" textLength="142.4" lengthAdjust="spacingAndGlyphs">ve desteklemesi</text>
<text class="t" x="303.6" y="377.8" textLength="172.9" lengthAdjust="spacingAndGlyphs">Tüm finans ekibinin</text>
<text class="t" x="303.6" y="400.8" textLength="172.4" lengthAdjust="spacingAndGlyphs">eğitim almış olması</text>
<text class="t" x="557.7" y="377.4" textLength="152.5" lengthAdjust="spacingAndGlyphs">Yedek doğrulama</text>
<text class="t" x="591.6" y="400.4" textLength="84.9" lengthAdjust="spacingAndGlyphs">kişilerinin</text>
<text class="t" x="580.4" y="423.4" textLength="107.4" lengthAdjust="spacingAndGlyphs">belirlenmesi</text>
<text class="t" x="789.8" y="377.4" textLength="177.9" lengthAdjust="spacingAndGlyphs">Prosedürün yazılı ve</text>
<text class="t" x="803.4" y="400.4" textLength="150.3" lengthAdjust="spacingAndGlyphs">erişilebilir olması</text>
</svg>
</body>
</html>
